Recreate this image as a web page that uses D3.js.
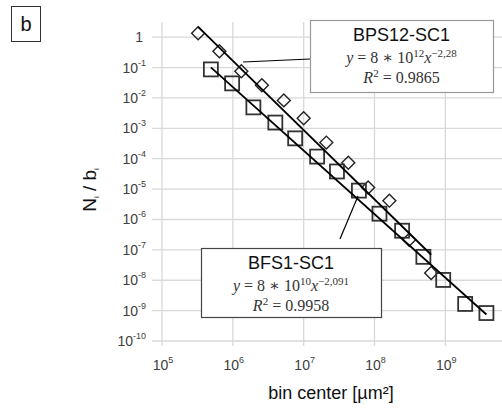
<!DOCTYPE html>
<html><head><meta charset="utf-8">
<script src="https://cdn.jsdelivr.net/npm/d3@7"></script>
<style>
body{margin:0;background:#fff;}
svg{display:block;}
</style></head>
<body>
<svg id="c" width="502" height="408"></svg>
<script>
// ---- data ----
const bpsX = [10**5.51, 10**5.81, 10**6.12, 10**6.41, 10**6.72, 10**7.00, 10**7.32, 10**7.63, 10**7.91, 10**8.21, 10**8.49, 10**8.80];
const bpsY = [10**0.13, 10**-0.46, 10**-1.12, 10**-1.58, 10**-2.08, 10**-2.67, 10**-3.47, 10**-4.13, 10**-4.95, 10**-5.38, 10**-6.67, 10**-7.76];
const bfsX = [10**5.69, 10**5.99, 10**6.29, 10**6.60, 10**6.88, 10**7.19, 10**7.47, 10**7.78, 10**8.07, 10**8.39, 10**8.69, 10**8.97, 10**9.28, 10**9.58];
const bfsY = [10**-1.06, 10**-1.52, 10**-2.31, 10**-2.81, 10**-3.33, 10**-3.93, 10**-4.42, 10**-5.05, 10**-5.81, 10**-6.37, 10**-7.23, 10**-7.99, 10**-8.78, 10**-9.08];
const bpsFit = {a: 8e12, b: -2.28};
const bfsFit = {a: 8e10, b: -2.091};
const xTickExp = [5, 6, 7, 8, 9];
const yTickExp = [0, -1, -2, -3, -4, -5, -6, -7, -8, -9, -10];

const svg = d3.select("#c");
const x = d3.scaleLog().domain([1e5, 10**9.8]).range([162, 502]);
const y = d3.scaleLog().domain([1e-10, 10**0.5]).range([341, 22]);
const grid = "#d9d9d9";
const tickCol = "#404040";
const sans = "'Liberation Sans', Arial, sans-serif";
const serif = "'Liberation Serif', 'DejaVu Serif', serif";

// gridlines
const gx = svg.append("g");
xTickExp.forEach(e => {
  gx.append("line").attr("x1", x(10**e)).attr("x2", x(10**e))
    .attr("y1", y.range()[1]).attr("y2", y.range()[0] + 5)
    .attr("stroke", grid).attr("stroke-width", 1.3);
});
yTickExp.forEach(e => {
  gx.append("line").attr("x1", x.range()[0] - 10).attr("x2", x.range()[1])
    .attr("y1", y(10**e)).attr("y2", y(10**e))
    .attr("stroke", grid).attr("stroke-width", 1.3);
});

// y tick labels
yTickExp.forEach(e => {
  const t = svg.append("text").attr("x", 146).attr("y", y(10**e) + 5)
    .attr("text-anchor", "end").attr("font-family", sans).attr("font-size", 14).attr("fill", tickCol);
  if (e === 0) { t.text("1").attr("x", 143); }
  else {
    t.append("tspan").text("10");
    t.append("tspan").text(String(e)).attr("font-size", 9).attr("dy", -7);
  }
});
// x tick labels
xTickExp.forEach(e => {
  const t = svg.append("text").attr("x", x(10**e) + 1).attr("y", 370)
    .attr("text-anchor", "middle").attr("font-family", sans).attr("font-size", 14).attr("fill", tickCol);
  t.append("tspan").text("10");
  t.append("tspan").text(String(e)).attr("font-size", 9).attr("dy", -7);
});

// axis titles
svg.append("text").attr("x", 331).attr("y", 399).attr("text-anchor", "middle")
  .attr("font-family", sans).attr("font-size", 18).attr("fill", "#111").text("bin center [µm²]");
const yl = svg.append("text").attr("transform", "translate(96,190) rotate(-90)").attr("text-anchor", "middle")
  .attr("font-family", sans).attr("font-size", 19).attr("fill", "#111");
yl.append("tspan").text("N");
yl.append("tspan").text("i").attr("font-size", 8).attr("dy", 3);
yl.append("tspan").text(" / b").attr("dy", -3);
yl.append("tspan").text("i").attr("font-size", 8).attr("dy", 3);

// panel label
svg.append("rect").attr("x", 11.5).attr("y", 6.5).attr("width", 29).attr("height", 35)
  .attr("fill", "none").attr("stroke", "#333").attr("stroke-width", 1);
svg.append("text").attr("x", 26).attr("y", 31).attr("text-anchor", "middle")
  .attr("font-family", sans).attr("font-size", 20).attr("fill", "#111").text("b");

// markers
const diamond = d3.symbol().type(d3.symbolSquare).size(84);
svg.append("g").selectAll("path").data(bpsX.map((v, i) => [v, bpsY[i]])).join("path")
  .attr("d", diamond)
  .attr("transform", d => `translate(${x(d[0])},${y(d[1])}) rotate(45)`)
  .attr("fill", "none").attr("stroke", "#222").attr("stroke-width", 1.4);
svg.append("g").selectAll("rect").data(bfsX.map((v, i) => [v, bfsY[i]])).join("rect")
  .attr("x", d => x(d[0]) - 7).attr("y", d => y(d[1]) - 7).attr("width", 14).attr("height", 14)
  .attr("fill", "none").attr("stroke", "#333").attr("stroke-width", 1.8);

// trend lines
function fitLine(fit, xs) {
  const x0 = d3.min(xs), x1 = d3.max(xs);
  svg.append("line").attr("x1", x(x0)).attr("y1", y(fit.a * x0 ** fit.b))
    .attr("x2", x(x1)).attr("y2", y(fit.a * x1 ** fit.b))
    .attr("stroke", "#000").attr("stroke-width", 1.8);
}
fitLine(bpsFit, bpsX);
fitLine(bfsFit, bfsX);

// callout connectors
svg.append("line").attr("x1", 243).attr("y1", 62).attr("x2", 310).attr("y2", 59).attr("stroke", "#000").attr("stroke-width", 1.2);
svg.append("line").attr("x1", 340).attr("y1", 239).attr("x2", 358).attr("y2", 196).attr("stroke", "#000").attr("stroke-width", 1.2);

// label boxes
function labelBox(bx, by, bw, bh, stroke, name, fit, r2) {
  const g = svg.append("g");
  g.append("rect").attr("x", bx + 0.5).attr("y", by + 0.5).attr("width", bw).attr("height", bh)
    .attr("fill", "#fff").attr("stroke", stroke).attr("stroke-width", 1.2);
  const cx = bx + bw / 2;
  g.append("text").attr("x", cx).attr("y", by + 21).attr("text-anchor", "middle")
    .attr("font-family", sans).attr("font-size", 18).attr("fill", "#111").text(name);
  const eq = g.append("text").attr("x", cx).attr("y", by + 43).attr("text-anchor", "middle")
    .attr("font-family", serif).attr("font-size", 16).attr("fill", "#333");
  const mant = fit.a / 10 ** Math.floor(Math.log10(fit.a));
  eq.append("tspan").text("y").attr("font-style", "italic");
  eq.append("tspan").text(" = " + Math.round(mant) + " \u2217 10");
  eq.append("tspan").text(String(Math.floor(Math.log10(fit.a) + 1e-9))).attr("font-size", 11).attr("dy", -6);
  eq.append("tspan").text("x").attr("font-style", "italic").attr("dy", 6);
  eq.append("tspan").text("\u2212" + String(-fit.b).replace(".", ",")).attr("font-size", 11).attr("dy", -6);
  const rt = g.append("text").attr("x", cx).attr("y", by + 63).attr("text-anchor", "middle")
    .attr("font-family", serif).attr("font-size", 16).attr("fill", "#333");
  rt.append("tspan").text("R").attr("font-style", "italic");
  rt.append("tspan").text("2").attr("font-size", 11).attr("dy", -6);
  rt.append("tspan").text(" = " + r2).attr("dy", 6);
}
labelBox(310, 20, 183, 72, "#999", "BPS12-SC1", bpsFit, "0.9865");
labelBox(201, 248, 180, 69, "#444", "BFS1-SC1", bfsFit, "0.9958");
</script>
</body></html>
